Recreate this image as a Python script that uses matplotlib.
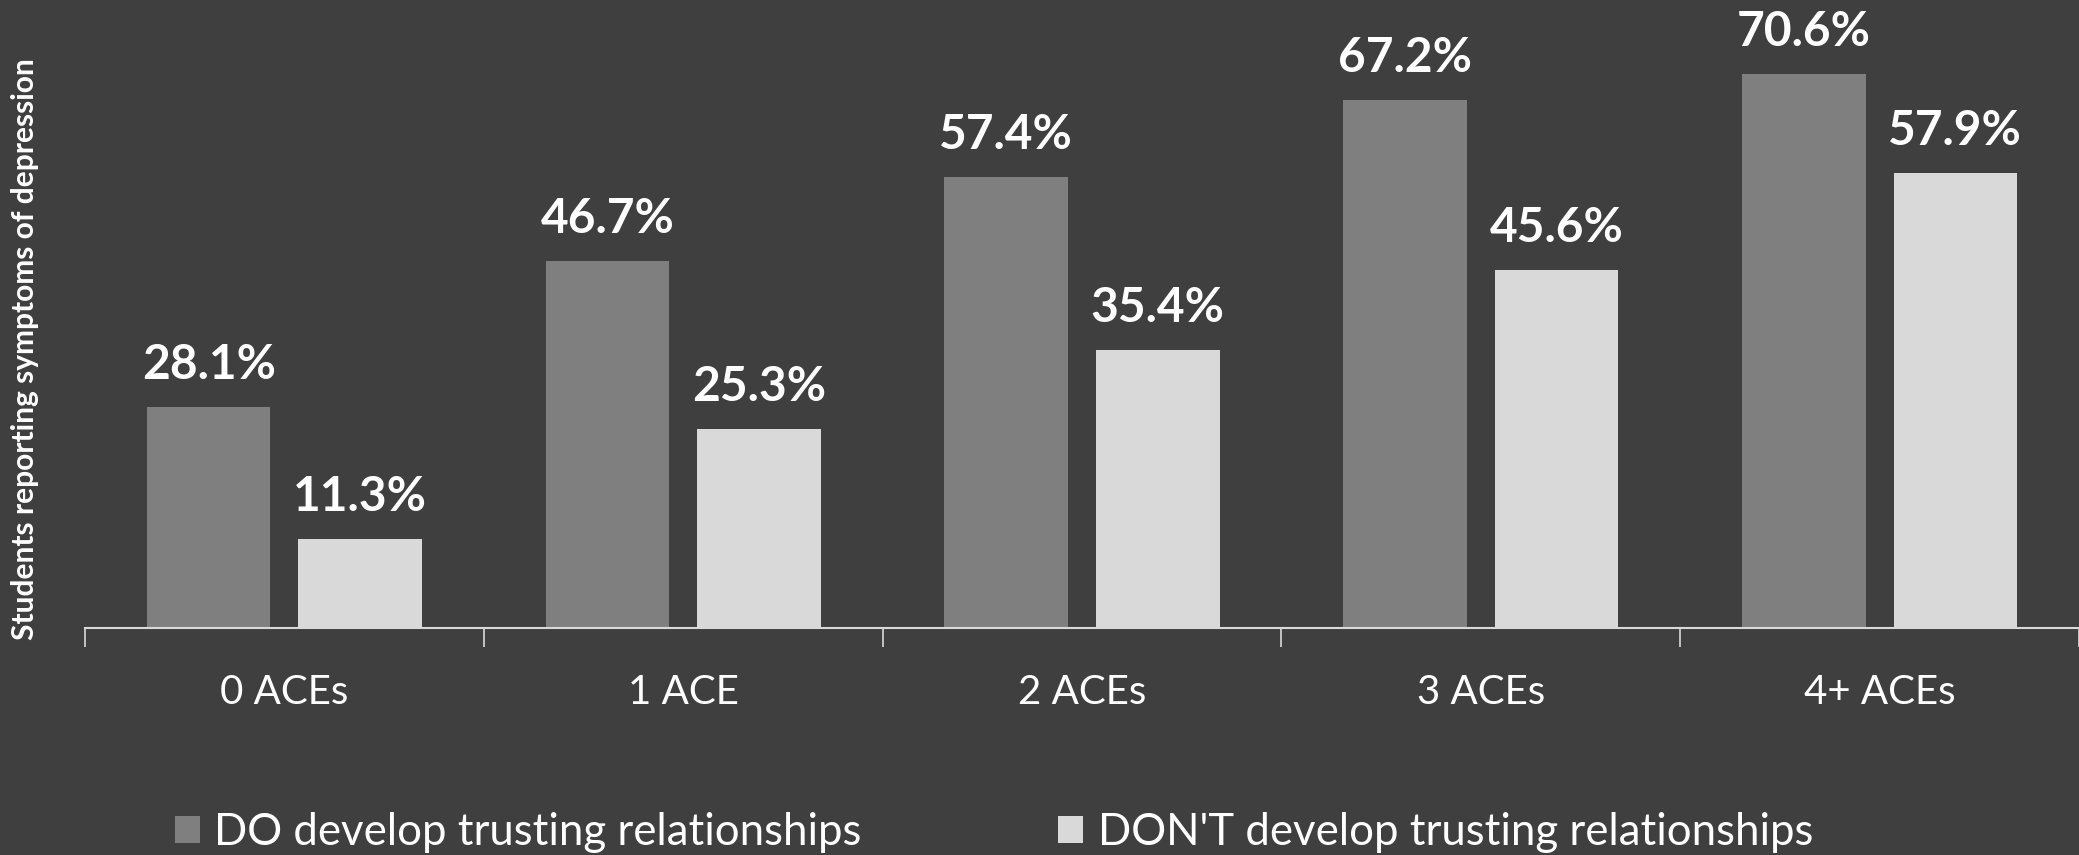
import numpy as np
import matplotlib.pyplot as plt

categories = ["0 ACEs", "1 ACE", "2 ACEs", "3 ACEs", "4+ ACEs"]
do_vals = [28.1, 46.7, 57.4, 67.2, 70.6]
dont_vals = [11.3, 25.3, 35.4, 45.6, 57.9]
series_names = ["DO develop trusting relationships", "DON'T develop trusting relationships"]

bg = "#3f3f3f"
dark = "#7f7f7f"
light = "#d9d9d9"

plt.rcParams['font.family'] = ['Lato', 'DejaVu Sans']

fig = plt.figure(figsize=(20.79, 8.55), dpi=100, facecolor=bg)
ax = fig.add_axes([85 / 2079, 1 - 628 / 855, 1 - 85 / 2079, 628 / 855])
ax.set_facecolor(bg)

x = np.arange(len(categories))
w = 0.31
off = 0.19
b1 = ax.bar(x - off, do_vals, w, color=dark, label=series_names[0])
b2 = ax.bar(x + off, dont_vals, w, color=light, label=series_names[1])

for bars, vals in [(b1, do_vals), (b2, dont_vals)]:
    for r, v in zip(bars, vals):
        ax.annotate(f"{v:.1f}%", (r.get_x() + r.get_width() / 2, v),
                    xytext=(0, 20), textcoords="offset pixels",
                    ha="center", va="bottom", color="white",
                    fontsize=34.5, fontweight="bold")

ax.set_xlim(-0.5, len(categories) - 0.5)
ax.set_ylim(0, 80)

# labels in the middle, tick marks on the group borders
ax.set_xticks(x)
ax.set_xticklabels(categories)
ax.tick_params(axis="x", which="major", length=0, pad=33, labelsize=29, labelcolor="white")
ax.set_xticks(np.arange(-0.5, len(categories), 1), minor=True)
ax.tick_params(axis="x", which="minor", length=14, width=1.2, color="#d9d9d9", direction="out")
ax.set_yticks([])

for s in ["top", "right", "left"]:
    ax.spines[s].set_visible(False)
ax.spines["bottom"].set_color("#d9d9d9")
ax.spines["bottom"].set_linewidth(1.5)

fig.text(25 / 2079, 1 - 349 / 855, "Students reporting symptoms of depression",
         rotation=90, ha="center", va="center", color="white",
         fontsize=21.5, fontweight="bold")

leg = fig.legend(handles=[b1, b2], loc="center", bbox_to_anchor=(0.478, 0.026),
                 ncol=2, frameon=False, fontsize=31.5, labelcolor="white",
                 handlelength=0.57, handleheight=0.57, handletextpad=0.34,
                 columnspacing=4.48)

fig.savefig("out.png", dpi=100, facecolor=bg)
